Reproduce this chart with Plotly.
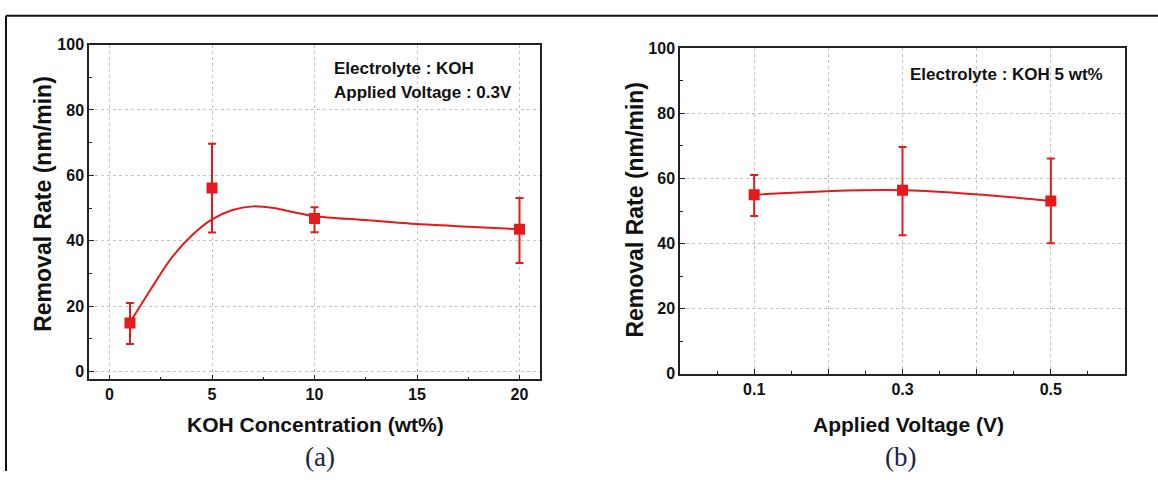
import plotly.graph_objects as go

# ---- data ----
koh_conc = [1, 5, 10, 20]
koh_rate = [14.8, 56.1, 46.8, 43.5]
koh_err_plus = [6.1, 13.6, 3.4, 9.6]
koh_err_minus = [6.4, 13.6, 4.2, 10.3]

# smooth fitted curve in panel (a)
curve_x = [1, 2, 3, 4, 5, 6, 7, 8, 9, 10, 12.5, 15, 17.5, 20]
curve_y = [15.0, 25.0, 34.5, 41.5, 46.5, 49.4, 50.5, 50.0, 48.7, 47.5, 46.3, 45.1, 44.3, 43.5]

volt = [0.1, 0.3, 0.5]
volt_rate = [55.0, 56.4, 53.1]
volt_err_plus = [6.1, 13.3, 13.0]
volt_err_minus = [6.5, 13.8, 13.0]

volt_tickvals = [0.0, 0.1, 0.2, 0.3, 0.4, 0.5, 0.6]
volt_ticktext = ["", "0.1", "", "0.3", "", "0.5", ""]

RED = "#e41a1c"
W, H = 1158, 480

fig = go.Figure()

fig.add_trace(go.Scatter(x=curve_x, y=curve_y, mode="lines",
                         line=dict(color=RED, width=2, shape="spline", smoothing=0.8),
                         xaxis="x", yaxis="y", showlegend=False, hoverinfo="skip"))
fig.add_trace(go.Scatter(x=koh_conc, y=koh_rate, mode="markers",
                         marker=dict(symbol="square", size=11, color=RED),
                         error_y=dict(type="data", array=koh_err_plus, arrayminus=koh_err_minus,
                                      color=RED, thickness=2, width=4),
                         xaxis="x", yaxis="y", showlegend=False))
fig.add_trace(go.Scatter(x=volt, y=volt_rate, mode="lines+markers",
                         line=dict(color=RED, width=2, shape="spline"),
                         marker=dict(symbol="square", size=11, color=RED),
                         error_y=dict(type="data", array=volt_err_plus, arrayminus=volt_err_minus,
                                      color=RED, thickness=2, width=4),
                         xaxis="x2", yaxis="y2", showlegend=False))

def px(x):
    return x / W

def py(y):
    return 1 - y / H

SANS = "Liberation Sans, Arial, sans-serif"
SERIF = "Liberation Serif, Times New Roman, serif"
tickfont = dict(family=SANS, size=16, color="#111", weight="bold")
common = dict(showline=True, linecolor="#222", linewidth=1.5, mirror=True,
              ticks="inside", ticklen=5, tickcolor="#222", tickwidth=1.2,
              showgrid=True, gridcolor="#c2c2c2", griddash="dot", gridwidth=1,
              zeroline=False, tickfont=tickfont)

fig.update_layout(
    width=W, height=H, margin=dict(l=0, r=0, t=0, b=0),
    paper_bgcolor="white", plot_bgcolor="white",
    xaxis=dict(domain=[px(89), px(540)], range=[-1, 21], tickvals=[0, 5, 10, 15, 20],
               minor=dict(dtick=2.5, tick0=0, ticks="inside", ticklen=3, tickcolor="#222"),
               anchor="y", **common),
    yaxis=dict(domain=[py(385), py(38)], range=[-2.45, 100], tickvals=[0, 20, 40, 60, 80, 100],
               minor=dict(dtick=10, tick0=0, ticks="inside", ticklen=3, tickcolor="#222"),
               anchor="x", **common),
    xaxis2=dict(domain=[px(680), px(1125)], range=[0, 0.6], tickvals=volt_tickvals,
                ticktext=volt_ticktext,
                minor=dict(dtick=0.05, tick0=0, ticks="inside", ticklen=3, tickcolor="#222"),
                anchor="y2", **common),
    yaxis2=dict(domain=[py(379.3), py(41.7)], range=[0, 100], tickvals=[0, 20, 40, 60, 80, 100],
                minor=dict(dtick=10, tick0=0, ticks="inside", ticklen=3, tickcolor="#222"),
                anchor="x2", **common),
)

bold = dict(family=SANS, color="#111", weight="bold")
annots = [
    dict(text="Electrolyte : KOH", x=px(332), y=py(63), xanchor="left", yanchor="middle",
         font=dict(size=17, **bold)),
    dict(text="Applied Voltage : 0.3V", x=px(332), y=py(88), xanchor="left", yanchor="middle",
         font=dict(size=17, **bold)),
    dict(text="Electrolyte : KOH 5 wt%", x=px(908), y=py(69), xanchor="left", yanchor="middle",
         font=dict(size=17, **bold)),
    dict(text="KOH Concentration (wt%)", x=px(315), y=py(432), xanchor="center", yanchor="middle",
         font=dict(size=21, **bold)),
    dict(text="Applied Voltage (V)", x=px(908), y=py(432), xanchor="center", yanchor="middle",
         font=dict(size=21, **bold)),
    dict(text="Removal Rate (nm/min)", x=px(43), y=py(203), xanchor="center", yanchor="middle",
         textangle=-90, font=dict(size=23, **bold)),
    dict(text="Removal Rate (nm/min)", x=px(635), y=py(209), xanchor="center", yanchor="middle",
         textangle=-90, font=dict(size=23, **bold)),
    dict(text="(a)", x=px(320), y=py(466), xanchor="center", yanchor="middle",
         font=dict(family=SERIF, size=27, color="#1a2540")),
    dict(text="(b)", x=px(900), y=py(466), xanchor="center", yanchor="middle",
         font=dict(family=SERIF, size=27, color="#1a2540")),
]
for a in annots:
    a.update(xref="paper", yref="paper", showarrow=False)
fig.update_layout(annotations=annots)

# outer frame of the figure
fig.add_shape(type="line", xref="paper", yref="paper", x0=px(6), x1=px(6), y0=0, y1=py(8),
              line=dict(color="#111", width=2))
fig.add_shape(type="line", xref="paper", yref="paper", x0=px(6), x1=1, y0=py(8), y1=py(8),
              line=dict(color="#111", width=2))

# remove the browser's default page margin so the figure sits at the window origin
fig.write_html("out.html", config={"displayModeBar": False},
               post_script="document.body.style.margin='0';")
